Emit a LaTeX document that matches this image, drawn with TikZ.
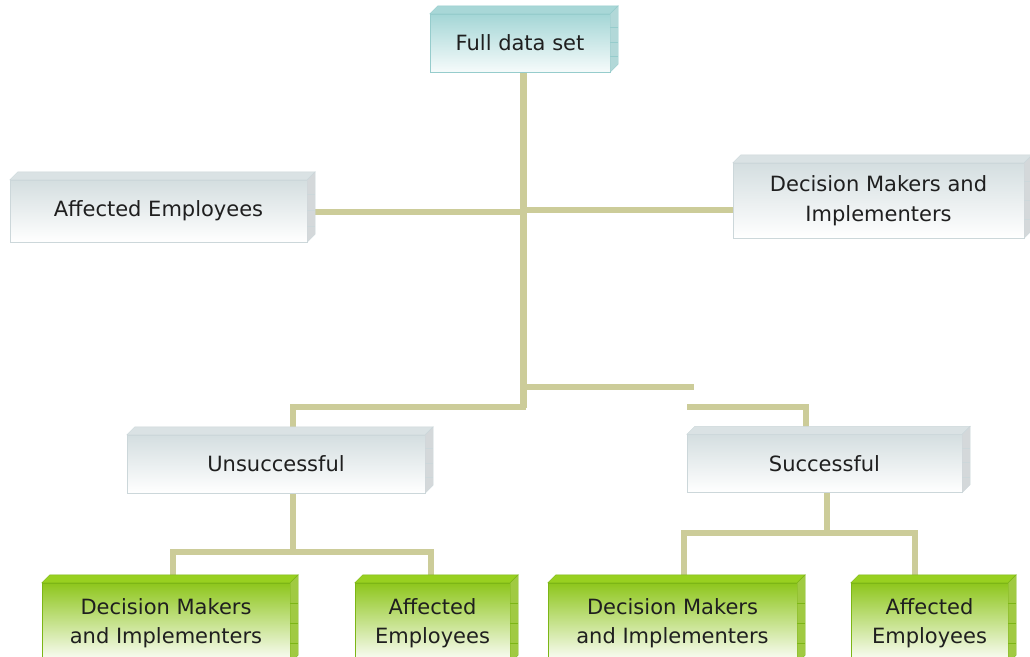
\documentclass[tikz,border=0pt]{standalone}
\usepackage{fontspec}
\setmainfont{DejaVu Sans}
\usepackage{tikz}
\usepackage{xcolor}
\usetikzlibrary{calc,backgrounds}

\definecolor{linkc}{RGB}{204,204,153}
\definecolor{tealtop}{RGB}{164,214,214}
\definecolor{tealface}{RGB}{168,215,215}
\definecolor{tealside}{RGB}{178,216,216}
\definecolor{tealedge}{RGB}{150,204,204}
\definecolor{graytop}{RGB}{212,222,224}
\definecolor{grayface}{RGB}{218,226,228}
\definecolor{grayside}{RGB}{212,216,218}
\definecolor{grayedge}{RGB}{204,215,218}
\definecolor{greentop}{RGB}{142,198,28}
\definecolor{greenface}{RGB}{152,208,32}
\definecolor{greenside}{RGB}{160,202,66}
\definecolor{greenedge}{RGB}{124,182,22}

% top and right faces of a box node
\newcommand{\boxbevel}[4]{%
  \filldraw[fill=#2, draw=#4] (#1.north west) -- ++(8,-8) -- ($(#1.north east)+(8,-8)$) -- (#1.north east) -- cycle;
  \filldraw[fill=#3, draw=#4] (#1.north east) -- ++(8,-8) -- ($(#1.south east)+(8,-8)$) -- (#1.south east) -- cycle;
  \foreach \t in {0.3,0.55,0.8}
    \draw[#4, very thin] ($(#1.north east)!\t!(#1.south east)+(0,-4)$) -- ++(8,0);
}

\begin{document}
\begin{tikzpicture}[x=1pt,y=-1pt]
        \tikzstyle{every node}=[font=\fontsize{21}{29.5}\selectfont, text=black!88, align=center, inner sep=0pt]
        \tikzstyle{tealbox}=[draw=tealedge, top color=tealtop, bottom color=tealtop!10, minimum height=58pt]
        \tikzstyle{graybox}=[draw=grayedge, top color=graytop, bottom color=white, minimum height=58pt]
        \tikzstyle{greenbox}=[draw=greenedge, top color=greentop, middle color=greentop!35, bottom color=white, minimum height=80pt]
        \tikzstyle{link}=[draw=linkc, line width=6pt, line cap=rect]

            \useasboundingbox (0,0) rectangle (1030,656);
            \clip (0,0) rectangle (1030,656);

            \node[tealbox, minimum width=180pt] (full) at (520,43) {Full data set};

            \node[graybox, minimum width=297pt, minimum height=62pt] (leftAE) at (158.5,211) {Affected Employees};
            \node[graybox, minimum width=291pt, minimum height=75pt] (rightDM) at (878.5,200.5) {Decision Makers and\\Implementers};

            \node[graybox, minimum width=298pt] (unsucc) at (276,464) {Unsuccessful};
            \node[graybox, minimum width=275pt] (succ) at (824.5,463.5) {Successful};

            \node[greenbox, minimum width=248pt] (U1) at (166,623) {Decision Makers\\and Implementers};
            \node[greenbox, minimum width=155pt] (U2) at (432.5,623) {Affected\\Employees};
            \node[greenbox, minimum width=249pt] (S1) at (672.5,623) {Decision Makers\\and Implementers};
            \node[greenbox, minimum width=157pt] (S2) at (929.5,623) {Affected\\Employees};

            \boxbevel{full}{tealface}{tealside}{tealedge}
            \foreach \n in {leftAE,rightDM,unsucc,succ}
                \boxbevel{\n}{grayface}{grayside}{grayedge};
            \foreach \n in {U1,U2,S1,S2}
                \boxbevel{\n}{greenface}{greenside}{greenedge};

            \coordinate (jT) at (523,404);
            \coordinate (jA) at (523,212);
            \coordinate (jD) at (525,210);
            \coordinate (jU) at (293,407);
            \coordinate (jS1) at (527,387);
            \coordinate (jS2) at (691,387);
            \coordinate (jS3) at (690,407);
            \coordinate (jS4) at (806,407);
            \coordinate (jUd) at (293,552);
            \coordinate (jUl) at (173,552);
            \coordinate (jUr) at (431,552);
            \coordinate (jSd) at (827,533);
            \coordinate (jSl) at (684,533);
            \coordinate (jSr) at (915,533);

            \begin{scope}[on background layer]
            \draw[link, line width=7pt] (full.south -| jT) -- (jT);
            \draw[link] (leftAE.east |- jA) -- (jA);
            \draw[link] (jD) -- (jD -| rightDM.west);
            \draw[link] (jU -| jT) -- (jU) -- (jU |- unsucc.north);
            \draw[link] (jS1) -- (jS2);
            \draw[link] (jS3) -- (jS4) -- (jS4 |- succ.north);

            \draw[link] (unsucc.south -| jUd) -- (jUd);
            \draw[link] (U1.north -| jUl) -- (jUl) -- (jUr) -- (U2.north -| jUr);
            \draw[link] (succ.south -| jSd) -- (jSd);
            \draw[link] (S1.north -| jSl) -- (jSl) -- (jSr) -- (S2.north -| jSr);
            \end{scope}

        \end{tikzpicture}
\end{document}
